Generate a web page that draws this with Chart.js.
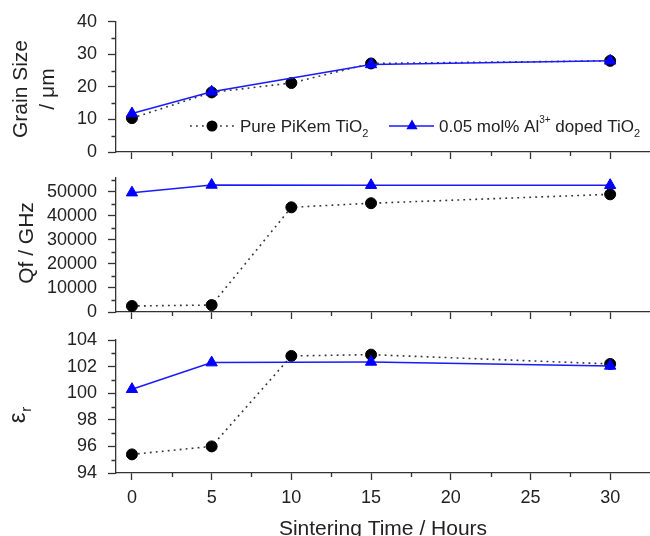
<!DOCTYPE html>
<html>
<head>
<meta charset="utf-8">
<script src="https://cdn.jsdelivr.net/npm/chart.js@4.4.1/dist/chart.umd.min.js"></script>
<style>
  html, body { margin: 0; padding: 0; background: #fff; }
  #wrap { position: relative; width: 650px; height: 536px; overflow: hidden; }
  canvas { position: absolute; left: 0; top: 0; }
</style>
</head>
<body>
<div id="wrap">
  <canvas id="c1" width="650" height="536"></canvas>
  <canvas id="c2" width="650" height="536"></canvas>
  <canvas id="c3" width="650" height="536"></canvas>
</div>
<script>
// ---------- data ----------
const timePure  = [0, 5, 10, 15, 30];
const timeDoped = [0, 5, 15, 30];

const grainPure  = [10.4, 18.3, 21.2, 27.2, 28.0];
const grainDoped = [11.8, 18.5, 26.9, 28.0];

const qfPure  = [2500, 2900, 43600, 45300, 49000];
const qfDoped = [49700, 52900, 52800, 52800];

const epsPure  = [95.4, 96.0, 102.8, 102.9, 102.2];
const epsDoped = [100.3, 102.3, 102.35, 102.05];

const xTicks      = [0, 5, 10, 15, 20, 25, 30];
const xMinorTicks = [2.5, 7.5, 12.5, 17.5, 22.5, 27.5];

const grainTicks      = [0, 10, 20, 30, 40];
const grainMinorTicks = [5, 15, 25, 35];
const qfTicks         = [0, 10000, 20000, 30000, 40000, 50000];
const qfMinorTicks    = [5000, 15000, 25000, 35000, 45000, 55000];
const epsTicks        = [94, 96, 98, 100, 102, 104];
const epsMinorTicks   = [95, 97, 99, 101, 103];

const labelPure  = 'Pure PiKem TiO';
const labelDoped = '0.05 mol% Al';

// ---------- styles ----------
const FONT = "'Liberation Sans', Arial, Helvetica, sans-serif";
const AXIS = '#333';
const TEXT = '#222';
const BLUE = '#1a1aff';
const W = 650, H = 536;

Chart.defaults.font.family = FONT;
Chart.defaults.color = TEXT;

function pts(xs, ys) { return xs.map((x, i) => ({ x: x, y: ys[i] })); }

function datasets(pureY, dopedY) {
  return [
    {
      label: labelDoped,
      data: pts(timeDoped, dopedY),
      borderColor: BLUE, backgroundColor: '#0000ff',
      pointBorderColor: '#0000ff', pointBackgroundColor: '#0000ff',
      borderWidth: 1.5, pointStyle: 'triangle', pointRadius: 6.5, pointBorderWidth: 1,
      tension: 0
    },
    {
      label: labelPure,
      data: pts(timePure, pureY),
      borderColor: '#333', backgroundColor: '#000',
      pointBorderColor: '#000', pointBackgroundColor: '#000',
      borderWidth: 1.6, borderDash: [1.8, 4.2], pointStyle: 'circle', pointRadius: 5.5, pointBorderWidth: 1,
      tension: 0
    }
  ];
}

const minorPlugin = {
  id: 'minorTicks',
  afterDraw(chart, args, opts) {
    const ctx = chart.ctx;
    const xs = chart.scales.x, ys = chart.scales.y;
    ctx.save();
    ctx.strokeStyle = AXIS;
    ctx.lineWidth = 1.3;
    ctx.beginPath();
    (opts.x || []).forEach(v => {
      const px = Math.round(xs.getPixelForValue(v)) + 0.5;
      ctx.moveTo(px, chart.chartArea.bottom);
      ctx.lineTo(px, chart.chartArea.bottom + 4);
    });
    (opts.y || []).forEach(v => {
      const py = Math.round(ys.getPixelForValue(v)) + 0.5;
      ctx.moveTo(chart.chartArea.left, py);
      ctx.lineTo(chart.chartArea.left - 4.5, py);
    });
    ctx.stroke();
    ctx.restore();
  }
};

const yTitlePlugin = {
  id: 'yTitle',
  afterDraw(chart, args, opts) {
    const ctx = chart.ctx;
    ctx.save();
    ctx.fillStyle = TEXT;
    ctx.textBaseline = 'alphabetic';
    (opts.items || []).forEach(it => {
      ctx.save();
      ctx.translate(it.x, it.y);
      ctx.rotate(-Math.PI / 2);
      let total = 0;
      it.parts.forEach(p => { ctx.font = p.size + 'px ' + FONT; total += ctx.measureText(p.t).width + (p.dx || 0); });
      let cx = -total / 2;
      it.parts.forEach(p => {
        ctx.font = p.size + 'px ' + FONT;
        cx += (p.dx || 0);
        ctx.fillText(p.t, cx, p.dy || 0);
        cx += ctx.measureText(p.t).width;
      });
      ctx.restore();
    });
    ctx.restore();
  }
};

const legendPlugin = {
  id: 'customLegend',
  afterDraw(chart, args, opts) {
    if (!opts.show) return;
    const ctx = chart.ctx;
    const y = 126;
    ctx.save();
    ctx.strokeStyle = '#333';
    ctx.lineWidth = 1.6;
    ctx.setLineDash([1.8, 4.2]);
    ctx.beginPath(); ctx.moveTo(190, y); ctx.lineTo(234, y); ctx.stroke();
    ctx.setLineDash([]);
    ctx.fillStyle = '#000';
    ctx.beginPath(); ctx.arc(212, y, 5.5, 0, Math.PI * 2); ctx.fill();
    ctx.strokeStyle = BLUE; ctx.lineWidth = 1.5;
    ctx.beginPath(); ctx.moveTo(389, y); ctx.lineTo(434, y); ctx.stroke();
    ctx.fillStyle = '#0000ff';
    const r = 6.5;
    ctx.beginPath();
    ctx.moveTo(412, y - r);
    ctx.lineTo(412 + r * 0.866, y + r * 0.5);
    ctx.lineTo(412 - r * 0.866, y + r * 0.5);
    ctx.closePath(); ctx.fill();
    ctx.fillStyle = TEXT;
    ctx.textBaseline = 'alphabetic';
    const base = y + 6;
    function run(parts, x) {
      parts.forEach(p => {
        ctx.font = p.size + 'px ' + FONT;
        ctx.fillText(p.t, x, base + (p.dy || 0));
        x += ctx.measureText(p.t).width;
      });
    }
    run([{ t: labelPure, size: 17 }, { t: '2', size: 11, dy: 5 }], 240);
    run([{ t: labelDoped, size: 17 }, { t: '3+', size: 10, dy: -9 }, { t: ' doped TiO', size: 17 }, { t: '2', size: 11, dy: 5 }], 439);
    ctx.restore();
  }
};

function makeChart(id, cfg) {
  const xScale = {
    type: 'linear', min: -1, max: 32.5,
    afterBuildTicks: s => { s.ticks = xTicks.map(v => ({ value: v })); },
    afterFit: s => { s.height = cfg.xHeight; },
    grid: { drawOnChartArea: false, drawTicks: true, tickLength: 7, tickColor: AXIS, tickWidth: 1.3 },
    border: { display: true, color: AXIS, width: 1.3 },
    ticks: { display: cfg.showX, font: { size: 18 }, color: TEXT, padding: 7, maxRotation: 0, callback: v => String(v) },
    title: cfg.showX ? { display: true, text: 'Sintering Time / Hours', font: { size: 21, lineHeight: 0.62 }, color: TEXT, padding: 0 } : { display: false }
  };
  const yScale = {
    type: 'linear', min: cfg.yMin, max: cfg.yMax,
    afterBuildTicks: s => { s.ticks = cfg.yTicks.map(v => ({ value: v })); },
    afterFit: s => { s.width = 116; },
    grid: { drawOnChartArea: false, drawTicks: true, tickLength: 8, tickColor: AXIS, tickWidth: 1.3 },
    border: { display: true, color: AXIS, width: 1.3 },
    ticks: { font: { size: 18 }, color: TEXT, padding: 11, callback: v => String(v) }
  };
  return new Chart(document.getElementById(id), {
    type: 'line',
    data: { datasets: datasets(cfg.pure, cfg.doped) },
    options: {
      responsive: false, animation: false, devicePixelRatio: 1,
      layout: { autoPadding: false, padding: { top: cfg.top, bottom: H - cfg.bottom - cfg.xHeight, left: 0, right: 0 } },
      scales: { x: xScale, y: yScale },
      plugins: {
        legend: { display: false }, tooltip: { enabled: false },
        minorTicks: { x: xMinorTicks, y: cfg.yMinor },
        yTitle: { items: cfg.titles },
        customLegend: { show: !!cfg.legend }
      }
    },
    plugins: [minorPlugin, yTitlePlugin, legendPlugin]
  });
}

makeChart('c1', {
  top: 18, bottom: 152, xHeight: 10, showX: false,
  yMin: 0, yMax: 40, yTicks: grainTicks, yMinor: grainMinorTicks,
  pure: grainPure, doped: grainDoped, legend: true,
  titles: [
    { x: 27, y: 89, parts: [{ t: 'Grain Size', size: 21 }] },
    { x: 54, y: 89, parts: [{ t: '/ \u03bcm', size: 21 }] }
  ]
});
makeChart('c2', {
  top: 178, bottom: 312, xHeight: 10, showX: false,
  yMin: 0, yMax: 55800, yTicks: qfTicks, yMinor: qfMinorTicks,
  pure: qfPure, doped: qfDoped,
  titles: [ { x: 33, y: 243, parts: [{ t: 'Qf / GHz', size: 21 }] } ]
});
makeChart('c3', {
  top: 340, bottom: 473, xHeight: 63, showX: true,
  yMin: 94, yMax: 104, yTicks: epsTicks, yMinor: epsMinorTicks,
  pure: epsPure, doped: epsDoped,
  titles: [ { x: 25, y: 415, parts: [{ t: '\u03b5', size: 24 }, { t: 'r', size: 15, dy: 6, dx: 1 }] } ]
});
</script>
</body>
</html>
